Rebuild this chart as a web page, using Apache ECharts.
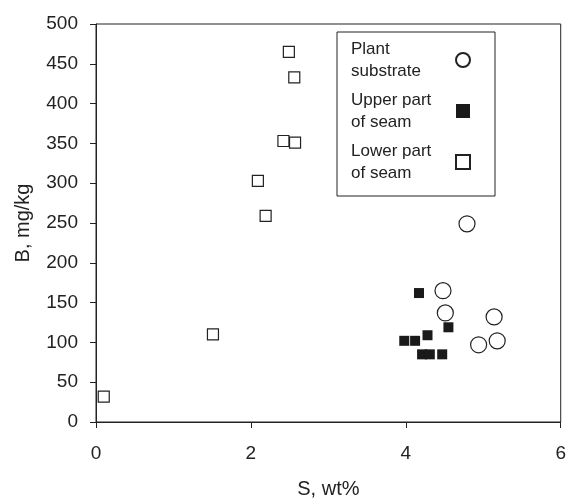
<!DOCTYPE html>
<html>
<head>
<meta charset="utf-8">
<script src="https://cdn.jsdelivr.net/npm/echarts@6/dist/echarts.min.js"></script>
<style>
html,body{margin:0;padding:0;background:#fff;}
#main{width:569px;height:504px;}
</style>
</head>
<body>
<div id="main"></div>
<script>
// S wt% , B mg/kg
var plantSubstrate = [[4.79, 249], [4.48, 165], [4.51, 137], [5.14, 132], [4.94, 97], [5.18, 102]];
var upperSeam = [[4.17, 162], [4.55, 119], [4.28, 109], [3.98, 102], [4.12, 102], [4.21, 85], [4.31, 85], [4.47, 85]];
var lowerSeam = [[2.49, 465], [2.56, 433], [2.42, 353], [2.57, 351], [2.09, 303], [2.19, 259], [1.51, 110], [0.10, 32]];
var seriesNames = ['Plant\nsubstrate', 'Upper part\nof seam', 'Lower part\nof seam'];

var FONT = '"Liberation Sans", Arial, Helvetica, sans-serif';
var myChart = echarts.init(document.getElementById('main'));

var option = {
	backgroundColor: '#fff',
	animation: false,
	grid: {
		left: 96, top: 24, right: 6, bottom: 76,
		show: true, borderColor: '#222', borderWidth: 1
	},
	legend: {
		data: seriesNames,
		orient: 'vertical',
		align: 'right',
		left: 337,
		top: 32,
		padding: [6, 24, 12, 14],
		itemGap: 7,
		itemWidth: 14,
		itemHeight: 14,
		borderColor: '#222',
		borderWidth: 1,
		selectedMode: false,
		formatter: function(name){
			return name.split('\n').map(function(s){ return '{a|' + s + '}'; }).join('\n');
		},
		textStyle: {
			color: '#222',
			fontFamily: FONT,
			fontSize: 17,
			lineHeight: 22,
			width: 100,
			rich: {
				a: { align: 'left', fontFamily: FONT, fontSize: 17, lineHeight: 22, color: '#222' }
			}
		}
	},
	xAxis: {
		type: 'value',
		min: 0, max: 6, interval: 2,
		name: 'S, wt%',
		nameLocation: 'middle',
		nameGap: 57,
		nameTextStyle: { color: '#222', fontFamily: FONT, fontSize: 20 },
		axisLine: { show: true, lineStyle: { color: '#222', width: 1 } },
		axisTick: { show: true, length: 6, lineStyle: { color: '#222' } },
		axisLabel: { color: '#222', fontFamily: FONT, fontSize: 19, margin: 22 },
		splitLine: { show: false }
	},
	yAxis: {
		type: 'value',
		min: 0, max: 500, interval: 50,
		name: 'B, mg/kg',
		nameLocation: 'middle',
		nameGap: 63,
		nameTextStyle: { color: '#222', fontFamily: FONT, fontSize: 20 },
		axisLine: { show: true, lineStyle: { color: '#222', width: 1 } },
		axisTick: { show: true, length: 6, lineStyle: { color: '#222' } },
		axisLabel: { color: '#222', fontFamily: FONT, fontSize: 19, margin: 18 },
		splitLine: { show: false }
	},
	series: [
		{
			name: seriesNames[0],
			type: 'scatter',
			symbol: 'circle',
			symbolSize: 16,
			itemStyle: { color: '#fff', borderColor: '#222', borderWidth: 1.2, opacity: 1 },
			data: plantSubstrate
		},
		{
			name: seriesNames[1],
			type: 'scatter',
			symbol: 'rect',
			symbolSize: 10,
			itemStyle: { color: '#1a1a1a', borderColor: '#1a1a1a', borderWidth: 0, opacity: 1 },
			data: upperSeam
		},
		{
			name: seriesNames[2],
			type: 'scatter',
			symbol: 'rect',
			symbolSize: 11,
			itemStyle: { color: '#fff', borderColor: '#222', borderWidth: 1.2, opacity: 1 },
			data: lowerSeam
		}
	]
};

myChart.setOption(option);
</script>
</body>
</html>
